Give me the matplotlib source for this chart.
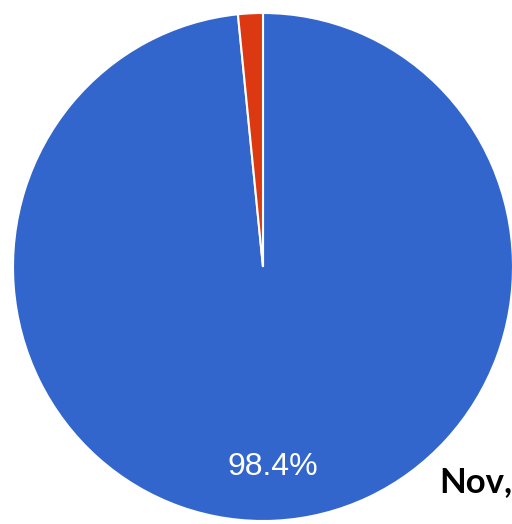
import matplotlib
matplotlib.use('Agg')
import matplotlib.pyplot as plt

labels = ['Blue', 'Red']
shares = [98.4, 1.6]
colors = ['#3366cc', '#dc3912']


def pct_label(p):
    # only the big slice gets a label, like the source chart
    return f'{p:.1f}%' if p > 5 else ''


fig = plt.figure(figsize=(5.12, 5.24), dpi=100)
ax = fig.add_axes([13 / 512, 3 / 524, 500 / 512, 508 / 524])

wedges, texts, autotexts = ax.pie(
    shares, colors=colors, startangle=90, counterclock=False,
    autopct=pct_label, pctdistance=0.79,
    wedgeprops=dict(edgecolor='white', linewidth=1.5),
    textprops=dict(color='white', fontsize=23, family='Liberation Sans'))
ax.set_aspect('auto')
ax.set_xlim(-1.0, 1.0)
ax.set_ylim(-1.0, 1.0)
ax.axis('off')

fig.text(439 / 512, 32 / 524, 'Nov,', fontsize=25, fontweight='bold',
         family='Lato', va='baseline', ha='left', color='black')

plt.savefig('out.png', dpi=100)
plt.close()
